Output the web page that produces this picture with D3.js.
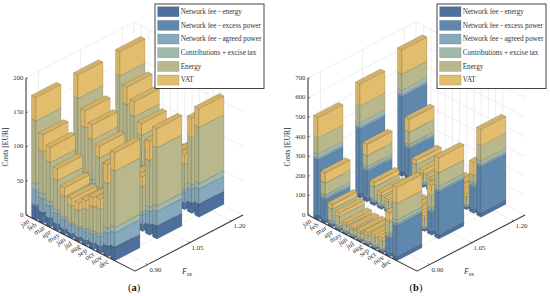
<!DOCTYPE html>
<html>
<head>
<meta charset="utf-8">
<script src="https://cdn.jsdelivr.net/npm/d3@7"></script>
<style>
html, body { margin: 0; padding: 0; background: #fff; }
text { font-family: "Liberation Serif", serif; fill: #333; }
</style>
</head>
<body>
<div id="chart"></div>
<script>
var months = ["jan", "feb", "mar", "apr", "may", "jun", "jul", "aug", "sep", "oct", "nov", "dec"];
var fexValues = [0.90, 1.05, 1.20];
var seriesNames = ["Network fee - energy", "Network fee - excess power", "Network fee - agreed power", "Contributions + excise tax", "Energy", "VAT"];
var colors = ["#4e709e", "#5f88ae", "#86a9bd", "#9fb9ad", "#b8b88c", "#e2bd6d"];

// panel (a), one row per Fex
var aNetEnergy = [
    [20, 15, 13, 10, 8, 7, 7, 8, 9, 10, 15, 19],
    [20, 15, 13, 10, 8, 7, 7, 8, 9, 10, 15, 19],
    [20, 15, 13, 10, 8, 7, 7, 8, 9, 10, 15, 19]];
var aExcess = [
    [2, 1, 0, 0, 0, 0, 0, 0, 0, 0, 1, 1],
    [0, 0, 0, 0, 0, 0, 0, 0, 0, 0, 0, 0],
    [0, 0, 0, 0, 0, 0, 0, 0, 0, 0, 0, 0]];
var aAgreed = [
    [22, 20, 18, 15, 13, 12, 12, 12, 13, 14, 19, 21],
    [22, 20, 18, 15, 13, 12, 12, 12, 13, 14, 19, 21],
    [23, 21, 19, 16, 14, 13, 13, 13, 14, 15, 20, 22]];
var aContrib = [
    [9, 7, 6, 5, 4, 3, 3, 4, 4, 4, 7, 8],
    [9, 7, 6, 5, 4, 3, 3, 4, 4, 4, 7, 8],
    [9, 7, 6, 5, 4, 3, 3, 4, 4, 4, 7, 8]];
var aEnergy = [
    [92, 62, 58, 44, 31, 25, 24, 29, 36, 36, 65, 82],
    [95, 66, 59, 45, 32, 25, 24, 30, 37, 37, 68, 85],
    [95, 67, 60, 45, 32, 25, 24, 30, 37, 37, 69, 82]];
var aVat = [
    [34, 25, 22, 17, 13, 11, 11, 13, 14, 15, 28, 27],
    [34, 25, 22, 17, 13, 11, 11, 13, 14, 15, 28, 28],
    [35, 26, 22, 17, 13, 11, 11, 13, 14, 15, 28, 27]];

// panel (b), one row per Fex
var bNetEnergy = [
    [25, 22, 14, 12, 9, 8, 8, 9, 10, 10, 20, 23],
    [25, 22, 14, 12, 9, 8, 8, 9, 10, 10, 20, 23],
    [25, 22, 14, 12, 9, 8, 8, 9, 10, 10, 20, 23]];
var bExcess = [
    [283, 100, 2, 0, 0, 0, 0, 0, 0, 2, 75, 157],
    [330, 133, 2, 0, 0, 0, 0, 0, 0, 2, 95, 217],
    [385, 136, 2, 0, 0, 0, 0, 0, 0, 2, 113, 235]];
var bAgreed = [
    [10, 10, 9, 8, 7, 6, 6, 7, 8, 8, 10, 10],
    [10, 10, 9, 8, 7, 6, 6, 7, 8, 8, 10, 10],
    [10, 10, 9, 8, 7, 6, 6, 7, 8, 8, 10, 10]];
var bContrib = [
    [20, 14, 6, 5, 3, 3, 3, 4, 4, 4, 12, 18],
    [20, 14, 6, 5, 3, 3, 3, 4, 4, 4, 12, 18],
    [20, 14, 6, 5, 3, 3, 3, 4, 4, 4, 12, 18]];
var bEnergy = [
    [82, 62, 62, 49, 29, 27, 28, 34, 39, 38, 64, 85],
    [88, 57, 64, 43, 36, 28, 28, 34, 39, 39, 68, 70],
    [83, 63, 66, 44, 39, 28, 29, 35, 40, 40, 40, 79]];
var bVat = [
    [103, 52, 23, 18, 12, 10, 11, 13, 15, 15, 44, 82],
    [110, 59, 23, 17, 14, 10, 11, 13, 15, 15, 49, 77],
    [123, 66, 23, 18, 14, 11, 11, 13, 15, 16, 65, 83]];

var width = 550,
    height = 296;

var svg = d3.select("#chart").append("svg")
    .attr("width", width)
    .attr("height", height)
    .style("display", "block");

// floor lengths of the two oblique axes, in px of screen x
var monthLen = 109,
    fexLen = 108,
    wallHeight = 137;

var monthScale = d3.scaleLinear().domain([0, 11]).range([7.75, 86.7]);
var fexScale = d3.scaleLinear().domain([0.90, 1.20]).range([12.5, 96.5]);
var halfMonth = 2.25,
    halfFex = 12.5;

function project(u, v, z) {
    return [u + v, 0.515 * u - 0.52 * v - z];
}

function poly(points) {
    return points.map(function (p) { return p.join(","); }).join(" ");
}

function drawPanel(ox, zMax, zTickCount, stacks, caption) {
    var g = svg.append("g").attr("transform", "translate(" + ox + ",215)");
    var z = d3.scaleLinear().domain([0, zMax]).range([0, wallHeight]);

    function line(layer, a, b, color, w) {
        layer.append("line")
            .attr("x1", a[0]).attr("y1", a[1])
            .attr("x2", b[0]).attr("y2", b[1])
            .style("stroke", color)
            .style("stroke-width", w);
    }

    // walls and floor
    var grid = g.append("g");
    var gridColor = "#e6e6e6";
    z.ticks(zTickCount).forEach(function (t) {
        line(grid, project(0, 0, z(t)), project(0, fexLen, z(t)), gridColor, 0.7);
        line(grid, project(0, fexLen, z(t)), project(monthLen, fexLen, z(t)), gridColor, 0.7);
    });
    fexValues.forEach(function (f) {
        var v = fexScale(f);
        line(grid, project(0, v, 0), project(0, v, wallHeight), gridColor, 0.7);
        line(grid, project(0, v, 0), project(monthLen, v, 0), gridColor, 0.7);
    });
    months.forEach(function (m, i) {
        var u = monthScale(i);
        line(grid, project(u, fexLen, 0), project(u, fexLen, wallHeight), gridColor, 0.7);
        line(grid, project(u, 0, 0), project(u, fexLen, 0), gridColor, 0.7);
    });
    line(grid, project(0, fexLen, 0), project(0, fexLen, wallHeight), gridColor, 0.7);

    // bars, far ones first
    var bars = g.append("g");
    var edge = "rgba(55,55,50,0.45)";
    d3.range(fexValues.length - 1, -1, -1).forEach(function (j) {
        months.forEach(function (m, i) {
            var uMin = monthScale(i) - halfMonth,
                uMax = monthScale(i) + halfMonth,
                vMin = fexScale(fexValues[j]) - halfFex,
                vMax = fexScale(fexValues[j]) + halfFex;
            var base = 0;
            stacks.forEach(function (series, k) {
                var value = series[j][i];
                if (!value) return;
                var lo = z(base),
                    hi = z(base + value);
                base += value;
                bars.append("polygon")
                    .attr("points", poly([project(uMin, vMin, lo), project(uMax, vMin, lo), project(uMax, vMin, hi), project(uMin, vMin, hi)]))
                    .style("fill", d3.color(colors[k]).darker(0.15))
                    .style("stroke", edge).style("stroke-width", 0.4);
                bars.append("polygon")
                    .attr("points", poly([project(uMax, vMin, lo), project(uMax, vMax, lo), project(uMax, vMax, hi), project(uMax, vMin, hi)]))
                    .style("fill", colors[k])
                    .style("stroke", edge).style("stroke-width", 0.4);
            });
            var top = z(base);
            bars.append("polygon")
                .attr("points", poly([project(uMin, vMin, top), project(uMax, vMin, top), project(uMax, vMax, top), project(uMin, vMax, top)]))
                .style("fill", d3.color(colors[5]).darker(0.2))
                .style("stroke", edge).style("stroke-width", 0.4);
        });
    });

    // axes
    var axes = g.append("g");
    var axisColor = "#3a3a3a";
    line(axes, project(0, 0, 0), project(0, 0, wallHeight), axisColor, 1.1);
    line(axes, project(0, 0, 0), project(monthLen, 0, 0), axisColor, 1.1);
    line(axes, project(monthLen, 0, 0), project(monthLen, fexLen, 0), axisColor, 1.1);

    z.ticks(zTickCount).forEach(function (t) {
        var p = project(0, 0, z(t));
        line(axes, p, [p[0] + 1.8, p[1]], axisColor, 0.7);
        axes.append("text")
            .attr("x", p[0] - 2.5)
            .attr("y", p[1] + 1.8)
            .attr("text-anchor", "end")
            .style("font-size", "6.8px")
            .text(t);
    });

    months.forEach(function (m, i) {
        var p = project(monthScale(i), 0, 0);
        line(axes, p, [p[0] - 1.2, p[1] - 2], axisColor, 0.6);
        axes.append("text")
            .attr("transform", "translate(" + (p[0] - 7.7) + "," + (p[1] + 5.8) + ") rotate(-32)")
            .attr("text-anchor", "middle")
            .style("font-size", "7.4px")
            .text(m);
    });

    fexValues.forEach(function (f) {
        var p = project(monthLen, fexScale(f), 0);
        line(axes, p, [p[0] - 1.6, p[1] - 1.2], axisColor, 0.6);
        axes.append("text")
            .attr("x", p[0] + 8)
            .attr("y", p[1] + 7.5)
            .attr("text-anchor", "middle")
            .style("font-size", "6.8px")
            .text(d3.format(".2f")(f));
    });

    g.append("text")
        .attr("transform", "translate(-18,-68) rotate(-90)")
        .attr("text-anchor", "middle")
        .style("font-size", "7.6px")
        .text("Costs [EUR]");

    var fexLabel = g.append("text")
        .attr("x", 156)
        .attr("y", 59)
        .style("font-size", "8px")
        .style("font-style", "italic");
    fexLabel.append("tspan").text("F");
    fexLabel.append("tspan")
        .attr("dy", 2)
        .style("font-size", "5.5px")
        .style("font-style", "normal")
        .text("ex");

    var cap = g.append("text")
        .attr("x", 108)
        .attr("y", 76)
        .attr("text-anchor", "middle")
        .style("font-size", "10.5px")
        .style("fill", "#111");
    cap.append("tspan").text("(");
    cap.append("tspan").style("font-weight", "bold").text(caption);
    cap.append("tspan").text(")");

    // legend
    var legend = g.append("g").attr("transform", "translate(129,-211)");
    legend.append("rect")
        .attr("width", 109)
        .attr("height", 84.5)
        .style("fill", "#fff")
        .style("stroke", "#444")
        .style("stroke-width", 1);
    seriesNames.forEach(function (name, k) {
        var row = legend.append("g").attr("transform", "translate(0," + (2.7 + k * 13.67) + ")");
        row.append("rect")
            .attr("x", 2.7)
            .attr("width", 21.3)
            .attr("height", 10)
            .style("fill", colors[k])
            .style("stroke", "rgba(60,60,60,0.45)")
            .style("stroke-width", 0.4);
        row.append("text")
            .attr("x", 25.7)
            .attr("y", 7.2)
            .style("font-size", "7.2px")
            .text(name);
    });
}

drawPanel(26, 200, 4, [aNetEnergy, aExcess, aAgreed, aContrib, aEnergy, aVat], "a");
drawPanel(308, 700, 7, [bNetEnergy, bExcess, bAgreed, bContrib, bEnergy, bVat], "b");
</script>
</body>
</html>
